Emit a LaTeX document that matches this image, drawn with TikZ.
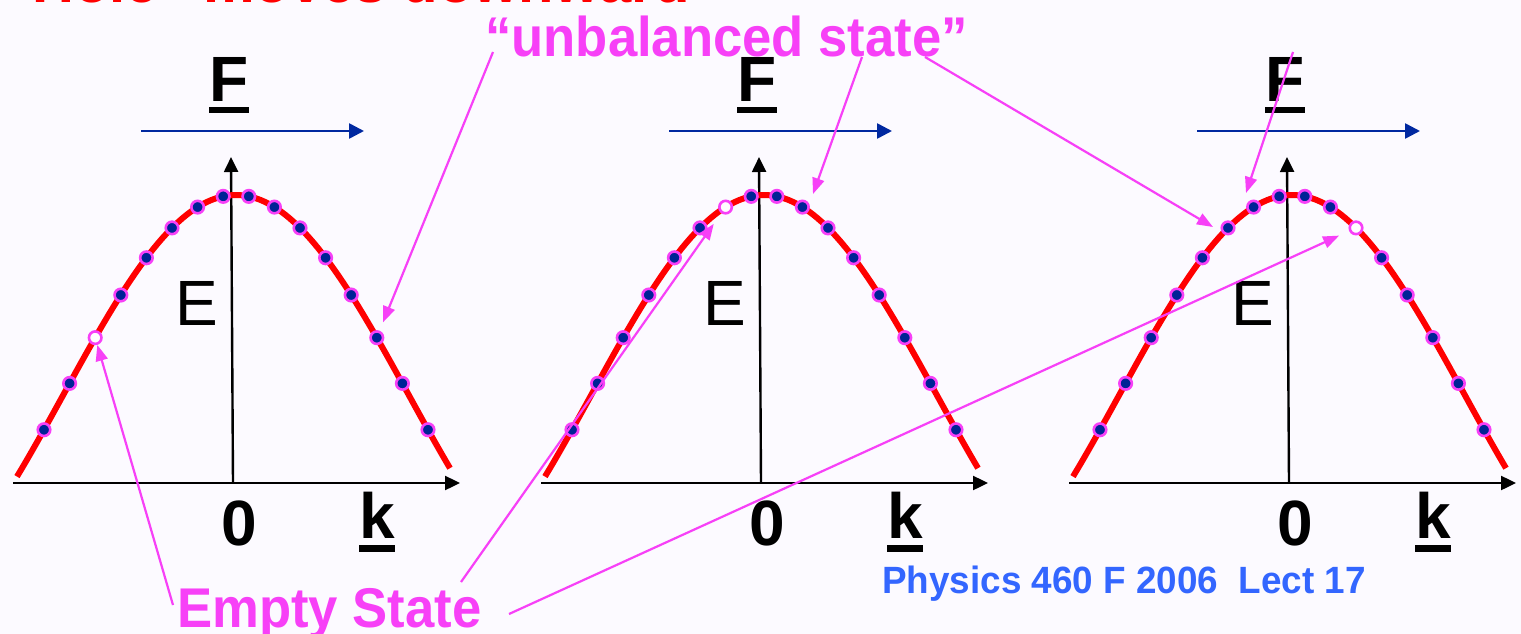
\documentclass[tikz,border=0pt]{standalone}
\usepackage{fontspec}
\setmainfont{Liberation Sans}
\usepackage{graphicx}
\usetikzlibrary{arrows.meta,calc}
\definecolor{bg}{RGB}{252,250,255}
\definecolor{mag}{RGB}{247,64,247}
\definecolor{dotblue}{RGB}{0,35,150}
\definecolor{farrow}{RGB}{0,40,160}
\definecolor{footblue}{RGB}{51,102,255}
\definecolor{hred}{RGB}{255,0,0}
\begin{document}
\begin{tikzpicture}[x=1pt,y=-1pt,
  axisline/.style={line width=2.4pt,-{Triangle[length=15pt,width=14pt]}},
  forcearrow/.style={farrow,line width=2.6pt,-{Triangle[length=15pt,width=15pt]}},
  band/.style={hred,line width=6pt},
  fullstate/.style={circle,draw=mag,fill=dotblue,line width=2.6pt,minimum size=12.5pt,inner sep=0pt},
  emptystate/.style={circle,draw=mag,fill=white,line width=2.6pt,minimum size=12.5pt,inner sep=0pt},
  biglbl/.style={inner sep=0pt,font=\fontsize{64}{66}\selectfont},
  bigbold/.style={inner sep=0pt,font=\bfseries\fontsize{64}{66}\selectfont},
  magtext/.style={inner sep=0pt,text=mag,font=\bfseries\fontsize{56}{58}\selectfont},
  pointer/.style={mag,line width=2.2pt,-{Triangle[length=16pt,width=12pt]}}]
\clip (0,0) rectangle (1521,634);
\fill[bg] (0,0) rectangle (1521,634);

% title (cut off at the top)
\node[inner sep=0pt,text=hred,font=\bfseries\fontsize{58}{60}\selectfont,anchor=base east] (title) at (690,3) {“Hole” moves downward};

\foreach \c/\e [count=\p] in {233/2,761/6,1289/10} {
  % force arrow and label
  \draw[forcearrow] (\c-92,131) -- (\c+131,131);
  \node[bigbold,anchor=base] (F\p) at (\c-4,101) {F};
  \fill ([yshift=-6pt]F\p.base west) rectangle ([yshift=-12pt]F\p.base east);
  % axes
  \draw[axisline] (\c-220,483) -- (\c+227,483);
  \draw[axisline] (\c,483) -- (\c-2,157);
  % band
  \draw[band] plot[variable=\t,domain=-219:214,samples=90] ({\c+3+\t},{195+200*(1-cos(deg(\t/110)))});
  % states
  \foreach \k in {0,...,15} {
    \pgfmathsetmacro\dx{(\k-7.5)*25.6}
    \ifnum\k=\e
      \node[emptystate] (d\p-\k) at ({\c+3+\dx},{195+200*(1-cos(deg(\dx/110)))}) {};
    \else
      \node[fullstate] (d\p-\k) at ({\c+3+\dx},{195+200*(1-cos(deg(\dx/110)))}) {};
    \fi
  }
  % labels
  \node[biglbl,anchor=base] (E\p) at (\c-36,325) {E};
  \node[bigbold,anchor=base] (z\p) at (\c+6,545) {0};
  \node[bigbold,anchor=base] (k\p) at (\c+144,538) {k};
  \fill ([yshift=-7pt]k\p.base west) rectangle ([yshift=-14pt]k\p.base east);
}

% annotation texts
\node[magtext,anchor=base west] (U) at (485,57) {\scalebox{0.94}[1]{“unbalanced state”}};
\node[magtext,anchor=base west] (ES) at (177,627) {\scalebox{0.94}[1]{Empty State}};
\node[inner sep=0pt,text=footblue,font=\bfseries\fontsize{38}{40}\selectfont,anchor=base west] (foot) at (882,593) {\scalebox{0.97}[1]{Physics 460 F 2006\ \ Lect 17}};

% pointer start / end points
\coordinate (u1) at (493,52);
\coordinate (u2) at (862,57);
\coordinate (u3) at (925,57);
\coordinate (u4) at (1293,52);
\coordinate (t2) at (813,194);
\coordinate (t3) at (1213,227);
\coordinate (t4) at (1246,193);
\coordinate (e1) at (173,605);
\coordinate (e2) at (461,582);
\coordinate (e3) at (509,614);

\draw[pointer,shorten >=9pt] (u1) -- (d1-13);
\draw[pointer] (u2) -- (t2);
\draw[pointer] (u3) -- (t3);
\draw[pointer] (u4) -- (t4);
\draw[pointer] (e1) -- (d1-2);
\draw[pointer,shorten >=13pt] (e2) -- (d2-6);
\draw[pointer,shorten >=11pt] (e3) -- (d3-10);
\end{tikzpicture}
\end{document}
